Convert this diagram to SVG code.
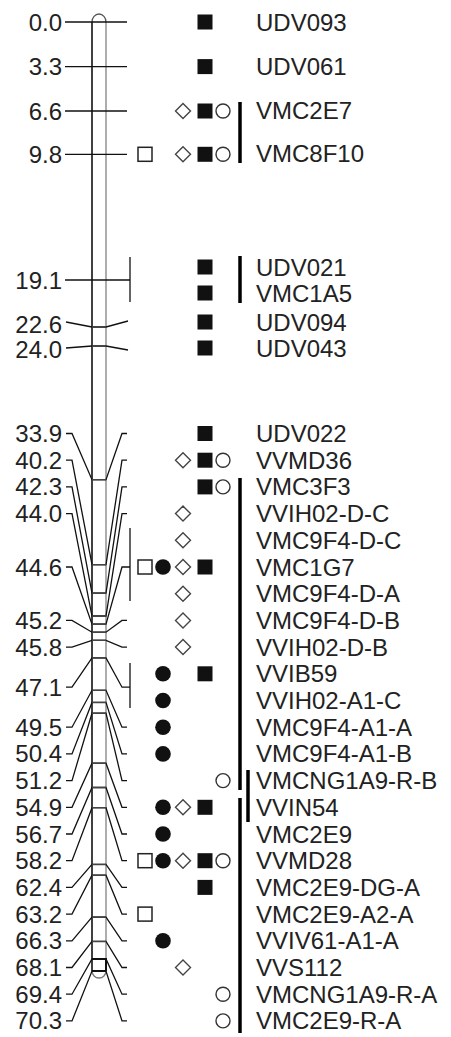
<svg xmlns="http://www.w3.org/2000/svg" xmlns:xlink="http://www.w3.org/1999/xlink" width="451" height="1037" viewBox="0 0 451 1037">
<style>
.num{font-family:"Liberation Sans",Arial,sans-serif;font-size:24px;fill:#222;text-anchor:end}
.lab{font-family:"Liberation Sans",Arial,sans-serif;font-size:24px;fill:#222}
.ln{fill:none;stroke:#111;stroke-width:1.3}
.in{fill:none;stroke:#444;stroke-width:1.5}
.vb{fill:none;stroke:#111;stroke-width:1.3}
.gb{fill:none;stroke:#000;stroke-width:3.5}
</style>
<defs>
<rect id="os" x="-7" y="-7" width="14" height="14" fill="#fff" stroke="#222" stroke-width="1.5"/>
<rect id="fs" x="-7.5" y="-7.5" width="15" height="15" fill="#111"/>
<circle id="fc" r="7.8" fill="#111"/>
<path id="od" d="M0,-7.5 L7.5,0 L0,7.5 L-7.5,0 Z" fill="#fff" stroke="#444" stroke-width="1.4"/>
<circle id="oc" r="7" fill="#fff" stroke="#333" stroke-width="1.4"/>
</defs>
<rect width="451" height="1037" fill="#fff"/>

<g id="chromosome">
<path d="M92,22 V971" stroke="#111" stroke-width="1.6" fill="none"/>
<path d="M106,22 V971" stroke="#999" stroke-width="1.6" fill="none"/>
<path d="M92,22 A7,8 0 0 1 106,22" stroke="#555" stroke-width="1.3" fill="none"/>
<path d="M92,971 A7,7 0 0 0 106,971" stroke="#777" stroke-width="1.3" fill="none"/>
<path d="M92,959 H106 V971 M92,971 H106" stroke="#111" stroke-width="2" fill="none"/>
</g>

<g id="connectors">
<path class="ln" d="M65,22 H127"/>
<path class="ln" d="M65,66.6 H127"/>
<path class="ln" d="M65,111 H127"/>
<path class="ln" d="M65,154.3 H127"/>
<path class="ln" d="M65,280 H130"/>
<path class="vb" d="M130,257 V302"/>
<path class="ln" d="M66,322 L92,327 H106 L128,321"/>
<path class="ln" d="M66,348 L92,346 H106 L128,350"/>
<path class="ln" d="M66,433.5 H72 L92,479.7 H106 L122,433.5 H127"/>
<path class="ln" d="M66,460.2 H72 L92,564.7 H106 L122,460.2 H127"/>
<path class="ln" d="M66,486.9 H72 L92,593.1 H106 L122,486.9 H127"/>
<path class="ln" d="M66,513.6 H72 L92,616 H106 L122,513.6 H127"/>
<path class="ln" d="M66,567 H72 L92,624.1 H106 L122,567 H130"/>
<path class="vb" d="M130,528 V601"/>
<path class="ln" d="M66,620.4 H72 L92,632.2 H106 L122,620.4 H127"/>
<path class="ln" d="M66,647.1 H72 L92,640.3 H106 L122,647.1 H127"/>
<path class="ln" d="M66,687.2 H72 L92,657.9 H106 L122,687.2 H130"/>
<path class="vb" d="M130,663 V708"/>
<path class="ln" d="M66,727.2 H72 L92,690.3 H106 L122,727.2 H127"/>
<path class="ln" d="M66,753.9 H72 L92,702.4 H106 L122,753.9 H127"/>
<path class="ln" d="M66,780.6 H72 L92,713.2 H106 L122,780.6 H127"/>
<path class="ln" d="M66,807.3 H72 L92,763.2 H106 L122,807.3 H127"/>
<path class="ln" d="M66,834 H72 L92,787.5 H106 L122,834 H127"/>
<path class="ln" d="M66,860.7 H72 L92,807.7 H106 L122,860.7 H127"/>
<path class="ln" d="M66,887.4 H72 L92,864.4 H106 L122,887.4 H127"/>
<path class="ln" d="M66,914.1 H72 L92,875.2 H106 L122,914.1 H127"/>
<path class="ln" d="M66,940.8 H72 L92,917.1 H106 L122,940.8 H127"/>
<path class="ln" d="M66,967.5 H72 L92,941.4 H106 L122,967.5 H127"/>
<path class="ln" d="M66,994.2 H72 L92,958.9 H106 L122,994.2 H127"/>
<path class="ln" d="M66,1020.9 H72 L92,971.1 H106 L122,1020.9 H127"/>
<path class="gb" d="M240,102 V163"/>
<path class="gb" d="M240,256 V303"/>
<path class="gb" d="M240,478 V790"/>
<path class="gb" d="M248,770 V822"/>
<path class="gb" d="M240,798 V1033"/>
</g>

<g id="positions">
<text class="num" x="62" y="30.5">0.0</text>
<text class="num" x="62" y="75.1">3.3</text>
<text class="num" x="62" y="119.5">6.6</text>
<text class="num" x="62" y="162.8">9.8</text>
<text class="num" x="62" y="288.5">19.1</text>
<text class="num" x="62" y="332.5">22.6</text>
<text class="num" x="62" y="357.5">24.0</text>
<text class="num" x="62" y="442">33.9</text>
<text class="num" x="62" y="468.7">40.2</text>
<text class="num" x="62" y="495.4">42.3</text>
<text class="num" x="62" y="522.1">44.0</text>
<text class="num" x="62" y="575.5">44.6</text>
<text class="num" x="62" y="628.9">45.2</text>
<text class="num" x="62" y="655.6">45.8</text>
<text class="num" x="62" y="695.7">47.1</text>
<text class="num" x="62" y="735.7">49.5</text>
<text class="num" x="62" y="762.4">50.4</text>
<text class="num" x="62" y="789.1">51.2</text>
<text class="num" x="62" y="815.8">54.9</text>
<text class="num" x="62" y="842.5">56.7</text>
<text class="num" x="62" y="869.2">58.2</text>
<text class="num" x="62" y="895.9">62.4</text>
<text class="num" x="62" y="922.6">63.2</text>
<text class="num" x="62" y="949.3">66.3</text>
<text class="num" x="62" y="976">68.1</text>
<text class="num" x="62" y="1002.7">69.4</text>
<text class="num" x="62" y="1029.4">70.3</text>
</g>

<g id="bar-lines">
<path class="in" d="M92,327 H106 M92,346 H106 M92,479.7 H106 M92,564.7 H106 M92,593.1 H106 M92,616 H106 M92,624.1 H106 M92,632.2 H106 M92,640.3 H106 M92,657.9 H106 M92,690.3 H106 M92,702.4 H106 M92,713.2 H106 M92,763.2 H106 M92,787.5 H106 M92,807.7 H106 M92,864.4 H106 M92,875.2 H106 M92,917.1 H106 M92,941.4 H106"/>
</g>

<g id="m-UDV093"><use xlink:href="#fs" x="205" y="22"/><text class="lab" x="256" y="30.5">UDV093</text></g>
<g id="m-UDV061"><use xlink:href="#fs" x="205" y="66.6"/><text class="lab" x="256" y="75">UDV061</text></g>
<g id="m-VMC2E7"><use xlink:href="#od" x="183" y="111"/><use xlink:href="#fs" x="205" y="111"/><use xlink:href="#oc" x="223" y="111"/><text class="lab" x="256" y="118.5">VMC2E7</text></g>
<g id="m-VMC8F10"><use xlink:href="#os" x="145" y="154.3"/><use xlink:href="#od" x="183" y="154.3"/><use xlink:href="#fs" x="205" y="154.3"/><use xlink:href="#oc" x="223" y="154.3"/><text class="lab" x="256" y="162">VMC8F10</text></g>
<g id="m-UDV021"><use xlink:href="#fs" x="205" y="267"/><text class="lab" x="256" y="275.5">UDV021</text></g>
<g id="m-VMC1A5"><use xlink:href="#fs" x="205" y="293"/><text class="lab" x="256" y="301.5">VMC1A5</text></g>
<g id="m-UDV094"><use xlink:href="#fs" x="205" y="322"/><text class="lab" x="256" y="330.5">UDV094</text></g>
<g id="m-UDV043"><use xlink:href="#fs" x="205" y="348"/><text class="lab" x="256" y="356.5">UDV043</text></g>
<g id="m-UDV022"><use xlink:href="#fs" x="205" y="433.5"/><text class="lab" x="256" y="442">UDV022</text></g>
<g id="m-VVMD36"><use xlink:href="#od" x="183" y="460.2"/><use xlink:href="#fs" x="205" y="460.2"/><use xlink:href="#oc" x="223" y="460.2"/><text class="lab" x="256" y="468.7">VVMD36</text></g>
<g id="m-VMC3F3"><use xlink:href="#fs" x="205" y="486.9"/><use xlink:href="#oc" x="223" y="486.9"/><text class="lab" x="256" y="495.4">VMC3F3</text></g>
<g id="m-VVIH02-D-C"><use xlink:href="#od" x="183" y="513.6"/><text class="lab" x="256" y="522.1">VVIH02-D-C</text></g>
<g id="m-VMC9F4-D-C"><use xlink:href="#od" x="183" y="540.3"/><text class="lab" x="256" y="548.8">VMC9F4-D-C</text></g>
<g id="m-VMC1G7"><use xlink:href="#os" x="145" y="567"/><use xlink:href="#fc" x="163" y="567"/><use xlink:href="#od" x="183" y="567"/><use xlink:href="#fs" x="205" y="567"/><text class="lab" x="256" y="575.5">VMC1G7</text></g>
<g id="m-VMC9F4-D-A"><use xlink:href="#od" x="183" y="593.7"/><text class="lab" x="256" y="602.2">VMC9F4-D-A</text></g>
<g id="m-VMC9F4-D-B"><use xlink:href="#od" x="183" y="620.4"/><text class="lab" x="256" y="628.9">VMC9F4-D-B</text></g>
<g id="m-VVIH02-D-B"><use xlink:href="#od" x="183" y="647.1"/><text class="lab" x="256" y="655.6">VVIH02-D-B</text></g>
<g id="m-VVIB59"><use xlink:href="#fc" x="163" y="673.8"/><use xlink:href="#fs" x="205" y="673.8"/><text class="lab" x="256" y="682.3">VVIB59</text></g>
<g id="m-VVIH02-A1-C"><use xlink:href="#fc" x="163" y="700.5"/><text class="lab" x="256" y="709">VVIH02-A1-C</text></g>
<g id="m-VMC9F4-A1-A"><use xlink:href="#fc" x="163" y="727.2"/><text class="lab" x="256" y="735.7">VMC9F4-A1-A</text></g>
<g id="m-VMC9F4-A1-B"><use xlink:href="#fc" x="163" y="753.9"/><text class="lab" x="256" y="762.4">VMC9F4-A1-B</text></g>
<g id="m-VMCNG1A9-R-B"><use xlink:href="#oc" x="223" y="780.6"/><text class="lab" x="256" y="789.1">VMCNG1A9-R-B</text></g>
<g id="m-VVIN54"><use xlink:href="#fc" x="163" y="807.3"/><use xlink:href="#od" x="183" y="807.3"/><use xlink:href="#fs" x="205" y="807.3"/><text class="lab" x="256" y="815.8">VVIN54</text></g>
<g id="m-VMC2E9"><use xlink:href="#fc" x="163" y="834"/><text class="lab" x="256" y="842.5">VMC2E9</text></g>
<g id="m-VVMD28"><use xlink:href="#os" x="145" y="860.7"/><use xlink:href="#fc" x="163" y="860.7"/><use xlink:href="#od" x="183" y="860.7"/><use xlink:href="#fs" x="205" y="860.7"/><use xlink:href="#oc" x="223" y="860.7"/><text class="lab" x="256" y="869.2">VVMD28</text></g>
<g id="m-VMC2E9-DG-A"><use xlink:href="#fs" x="205" y="887.4"/><text class="lab" x="256" y="895.9">VMC2E9-DG-A</text></g>
<g id="m-VMC2E9-A2-A"><use xlink:href="#os" x="145" y="914.1"/><text class="lab" x="256" y="922.6">VMC2E9-A2-A</text></g>
<g id="m-VVIV61-A1-A"><use xlink:href="#fc" x="163" y="940.8"/><text class="lab" x="256" y="949.3">VVIV61-A1-A</text></g>
<g id="m-VVS112"><use xlink:href="#od" x="183" y="967.5"/><text class="lab" x="256" y="976">VVS112</text></g>
<g id="m-VMCNG1A9-R-A"><use xlink:href="#oc" x="223" y="994.2"/><text class="lab" x="256" y="1002.7">VMCNG1A9-R-A</text></g>
<g id="m-VMC2E9-R-A"><use xlink:href="#oc" x="223" y="1020.9"/><text class="lab" x="256" y="1029.4">VMC2E9-R-A</text></g>
</svg>
